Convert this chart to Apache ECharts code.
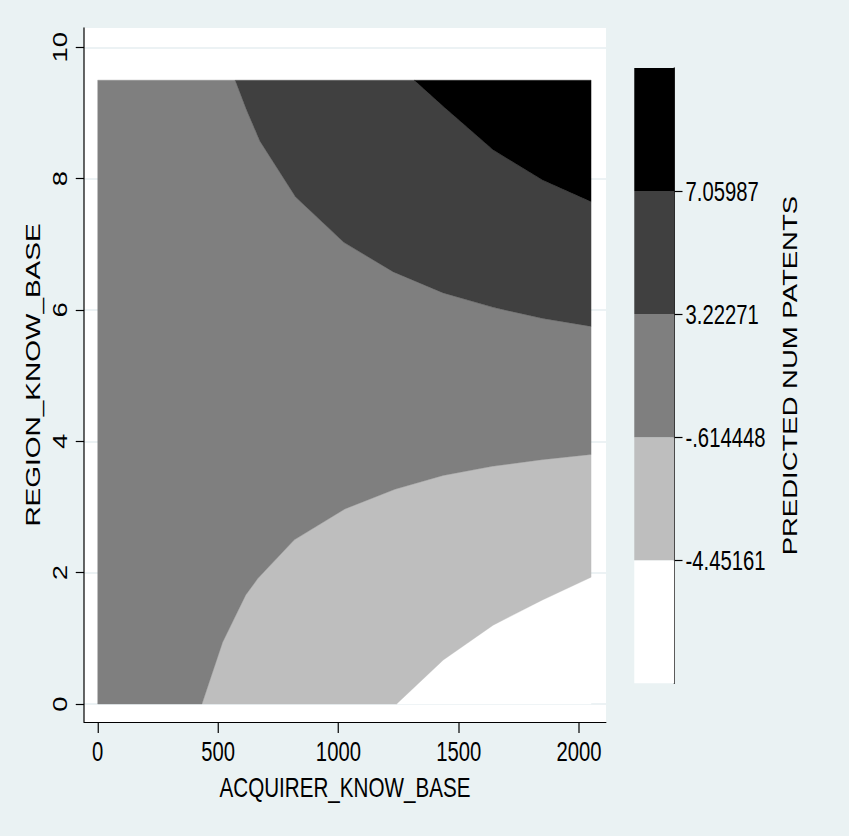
<!DOCTYPE html>
<html>
<head>
<meta charset="utf-8">
<script src="https://cdn.jsdelivr.net/npm/echarts@6/dist/echarts.min.js"></script>
<style>
  html, body { margin: 0; padding: 0; background: #eaf2f3; overflow: hidden; }
  /* the figure is laid out 1132px wide and compressed horizontally to 849px */
  #chart { width: 1132px; height: 836px; transform: scaleX(0.75); transform-origin: 0 0; }
</style>
</head>
<body>
<div id="chart"></div>
<script>
// Grid covered by the fitted surface
const xExtent = [0, 2050];
const yExtent = [0, 9.5];
const xTicks = [0, 500, 1000, 1500, 2000];
const yTicks = [0, 2, 4, 6, 8, 10];

// Contour cut points of PREDICTED NUM PATENTS and how they are printed
const zRange = [-8.28877, 10.89703];
const levelCuts = [-4.45161, -0.614448, 3.22271, 7.05987];
const levelLabels = ['-4.45161', '-.614448', '3.22271', '7.05987'];

// Iso-lines, each traced towards the right edge of the grid
const isoA_x = [1242, 1436, 1643, 1846, 2050];               // z = -4.45161
const isoA_y = [0, 0.67, 1.20, 1.58, 1.93];
const isoB_x = [433, 519, 615, 665, 817, 1027, 1235, 1435, 1640, 1845, 2050]; // z = -.614448
const isoB_y = [0, 0.94, 1.66, 1.91, 2.50, 2.97, 3.27, 3.48, 3.62, 3.72, 3.80];
const isoC_x = [571, 618, 674, 822, 1022, 1228, 1435, 1643, 1850, 2050];     // z = 3.22271
const isoC_y = [9.5, 9.05, 8.57, 7.72, 7.03, 6.58, 6.26, 6.04, 5.87, 5.75];
const isoD_x = [1315, 1436, 1642, 1848, 2050];               // z = 7.05987
const isoD_y = [9.5, 9.10, 8.44, 7.98, 7.65];

const bandColors = ['#ffffff', '#bebebe', '#7f7f7f', '#404040', '#000000'];
const FONT = '"Liberation Sans", Arial, Helvetica, sans-serif';

const pts = (xs, ys) => xs.map((x, i) => [x, ys[i]]);
const A = pts(isoA_x, isoA_y), B = pts(isoB_x, isoB_y);
const C = pts(isoC_x, isoC_y), D = pts(isoD_x, isoD_y);
const rev = a => a.slice().reverse();
const [x0, x1] = xExtent, [y0, y1] = yExtent;

// One filled polygon per band, lowest band first
const bandPolys = [
  A.concat([[x1, y0]]),
  B.concat(rev(A)),
  [[x0, y0]].concat(B, rev(C), [[x0, y1]]),
  C.concat(rev(D)),
  D.concat([[x1, y1]])
];
const bandEdges = [zRange[0]].concat(levelCuts, [zRange[1]]);

const chart = echarts.init(document.getElementById('chart'), null, { renderer: 'svg' });

const axisColor = '#000';
chart.setOption({
  backgroundColor: '#eaf2f3',
  animation: false,
  textStyle: { fontFamily: FONT },
  grid: [
    { left: 112, right: 324, top: 28, bottom: 114, show: true, backgroundColor: '#ffffff', borderWidth: 0 },
    { left: 845.7, width: 53.3, top: 68, bottom: 152.7, show: false }
  ],
  xAxis: [
    {
      type: 'value', gridIndex: 0, min: -57, max: 2112,
      axisLine: { show: true, onZero: false, lineStyle: { color: axisColor, width: 1.2 } },
      axisTick: { show: true, customValues: xTicks, length: 11, lineStyle: { color: axisColor, width: 1.6 } },
      axisLabel: { customValues: xTicks, margin: 16, fontSize: 27, color: '#000', fontFamily: FONT,
                   formatter: v => String(v) },
      splitLine: { show: false },
      name: 'ACQUIRER_KNOW_BASE', nameLocation: 'middle', nameGap: 51,
      nameTextStyle: { fontSize: 27.5, color: '#000', fontFamily: FONT }
    },
    { type: 'value', gridIndex: 1, min: 0, max: 1, show: false }
  ],
  yAxis: [
    {
      type: 'value', gridIndex: 0, min: -0.274, max: 10.294,
      axisLine: { show: true, onZero: false, lineStyle: { color: axisColor, width: 1.6 } },
      axisTick: { show: true, customValues: yTicks, length: 11, lineStyle: { color: axisColor, width: 1.2 } },
      axisLabel: { customValues: yTicks, rotate: 90, margin: 18, fontSize: 27.5, color: '#000', fontFamily: FONT,
                   formatter: v => String(v) },
      splitLine: { show: true, lineStyle: { color: '#e6eef0', width: 1.5 } },
      name: 'REGION_KNOW_BASE', nameLocation: 'middle', nameGap: 46, nameRotate: 90,
      nameTextStyle: { fontSize: 28, color: '#000', fontFamily: FONT }
    },
    {
      type: 'value', gridIndex: 1, position: 'right', min: zRange[0], max: zRange[1],
      axisLine: { show: true, onZero: false, lineStyle: { color: axisColor, width: 1.6 } },
      axisTick: { show: true, customValues: levelCuts, length: 11, lineStyle: { color: axisColor, width: 1.2 } },
      axisLabel: {
        customValues: levelCuts, margin: 15, fontSize: 27, color: '#000', fontFamily: FONT,
        formatter: v => {
          let best = 0;
          levelCuts.forEach((c, i) => { if (Math.abs(c - v) < Math.abs(levelCuts[best] - v)) best = i; });
          return levelLabels[best];
        }
      },
      splitLine: { show: false },
      name: 'PREDICTED NUM PATENTS', nameLocation: 'middle', nameGap: 140, nameRotate: 90,
      nameTextStyle: { fontSize: 27.5, color: '#000', fontFamily: FONT }
    }
  ],
  series: [
    {
      // filled contour bands on the main plot
      type: 'custom', xAxisIndex: 0, yAxisIndex: 0, silent: true,
      data: bandPolys.map((_, i) => [i]),
      renderItem: (params, api) => {
        const i = params.dataIndex;
        return {
          type: 'polygon',
          shape: { points: bandPolys[i].map(p => api.coord(p)) },
          style: { fill: bandColors[i], stroke: bandColors[i], lineWidth: 0.4 }
        };
      }
    },
    {
      // colour key: one block per band between its cut points
      type: 'custom', xAxisIndex: 1, yAxisIndex: 1, silent: true,
      data: bandColors.map((_, i) => [i]),
      renderItem: (params, api) => {
        const i = params.dataIndex;
        const p0 = api.coord([0, bandEdges[i]]);
        const p1 = api.coord([1, bandEdges[i + 1]]);
        return {
          type: 'rect',
          shape: { x: p0[0], y: p1[1], width: p1[0] - p0[0], height: p0[1] - p1[1] },
          style: { fill: bandColors[i] }
        };
      }
    }
  ]
});
</script>
</body>
</html>
